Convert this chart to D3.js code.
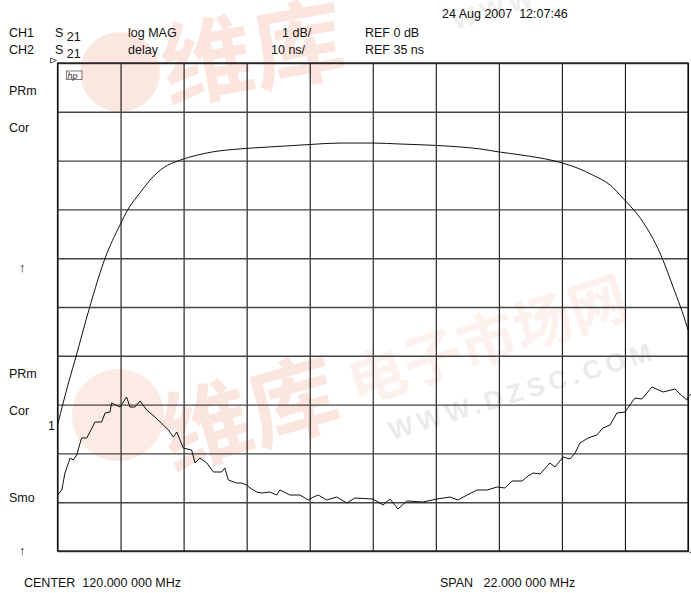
<!DOCTYPE html>
<html><head><meta charset="utf-8">
<script src="https://cdn.jsdelivr.net/npm/d3@7/dist/d3.min.js"></script>
<style>
body{margin:0;background:#fff;}
svg{display:block;font-family:"Liberation Sans",Arial,sans-serif;}
</style></head>
<body><svg id="c" width="691" height="593"></svg>
<script>
// ---- data ----
const center = 120, span = 22;               // MHz
const ch1Ref = 0, ch1Scale = 1;              // dB, dB/div
const ch2Ref = 35, ch2Scale = 10;            // ns, ns/div
const ch1Freq = [109.0,109.41,109.61,110.13,110.66,111.18,111.47,111.88,112.29,112.69,113.28,113.86,114.43,115.37,116.41,117.81,118.86,120.0,120.95,122.24,123.04,123.74,124.37,125.24,126.29,127.13,127.69,128.28,128.73,129.43,130.02,130.48,130.97,131.0];
const ch1Mag  = [-7.42,-6.50,-6.09,-4.99,-4.00,-3.32,-2.99,-2.66,-2.36,-2.15,-1.99,-1.89,-1.82,-1.76,-1.72,-1.67,-1.64,-1.64,-1.66,-1.69,-1.72,-1.76,-1.82,-1.89,-2.00,-2.15,-2.30,-2.50,-2.77,-3.26,-3.89,-4.59,-5.41,-5.47];
const ch2Freq = [109.0,109.15,109.26,109.44,109.55,109.67,109.84,110.02,110.13,110.31,110.54,110.66,110.83,110.89,111.18,111.41,111.53,111.70,111.88,112.11,112.40,112.69,112.87,113.04,113.16,113.39,113.68,113.80,113.97,114.21,114.44,114.73,114.84,114.96,115.25,115.43,115.60,115.72,115.95,116.13,116.41,116.65,116.76,117.11,117.46,117.75,117.93,118.10,118.39,118.74,119.09,119.38,120.01,120.36,120.60,120.88,121.19,121.75,122.24,122.70,122.97,123.29,123.64,123.99,124.34,124.61,124.86,125.21,125.42,125.59,125.84,126.18,126.36,126.64,126.88,127.06,127.23,127.51,127.82,128.03,128.28,128.52,128.80,128.97,129.15,129.39,129.74,130.13,130.55,130.72,130.96,131.0];
const ch2Delay = [46.47,47.50,50.98,54.06,53.65,54.67,58.15,58.15,59.38,61.43,61.43,63.28,63.48,65.33,64.50,66.55,64.50,64.50,65.74,63.89,62.46,60.82,59.79,58.36,59.38,56.10,55.69,53.03,54.06,53.03,51.19,51.19,52.01,49.55,48.93,48.93,48.52,47.91,47.09,46.88,47.09,46.47,47.50,46.47,46.47,45.45,46.06,46.47,45.45,46.06,44.84,45.86,45.65,44.43,45.65,43.61,45.25,45.04,45.65,46.06,45.45,46.47,47.50,47.50,48.11,47.91,49.34,49.34,50.37,50.98,50.78,53.03,52.21,54.26,53.85,55.08,57.13,58.15,58.77,60.20,60.82,63.28,63.48,64.92,66.35,66.14,68.60,67.58,68.19,67.17,65.94,66.55];
const headerRows = [
  {ch:"CH1", param:"S", sub:"21", fmt:"log MAG", scale:"1 dB/", ref:"REF 0 dB"},
  {ch:"CH2", param:"S", sub:"21", fmt:"delay", scale:"10 ns/", ref:"REF 35 ns"}
];
const dateText = "24 Aug 2007  12:07:46";
const leftLabels = [
  {t:"PRm", y:95},{t:"Cor", y:132},{t:"↑", y:272},
  {t:"PRm", y:378},{t:"Cor", y:415},{t:"Smo", y:502},{t:"↑", y:555}
];
const footerCenter = "CENTER  120.000 000 MHz";
const footerSpan = "SPAN   22.000 000 MHz";
const nDiv = 10;

// ---- layout ----
const L = 57.5, R = 688, T = 63, B = 551;
const svg = d3.select("#c");

// watermark (faint)
const wm = svg.append("g").attr("fill","#ec6a40").attr("font-family","'Noto Sans CJK SC'").attr("font-weight","bold");
wm.append("circle").attr("cx",120).attr("cy",72).attr("r",40).attr("opacity",0.16);
wm.append("text").attr("x",168).attr("y",102).attr("font-size",92).attr("opacity",0.17).attr("transform","rotate(-10,168,102)").text("维库");
wm.append("circle").attr("cx",118).attr("cy",415).attr("r",46).attr("opacity",0.14);
wm.append("text").attr("x",172).attr("y",470).attr("font-size",90).attr("opacity",0.16).attr("transform","rotate(-16,172,470)").text("维库");
wm.append("text").attr("x",356).attr("y",405).attr("font-size",58).attr("opacity",0.09).attr("transform","rotate(-18,356,405)").text("电子市场网");
wm.append("text").attr("x",392).attr("y",440).attr("font-size",26).attr("fill","#999").attr("font-family","'Liberation Sans'").attr("letter-spacing",5).attr("opacity",0.2).attr("transform","rotate(-17,392,440)").text("WWW.DZSC.COM");
wm.append("text").attr("x",455).attr("y",30).attr("font-size",26).attr("fill","#999").attr("font-family","'Liberation Sans'").attr("letter-spacing",5).attr("opacity",0.15).attr("transform","rotate(-17,455,30)").text("WWW");

// scales
const x = d3.scaleLinear().domain([center - span/2, center + span/2]).range([L, R]);
const y1 = d3.scaleLinear().domain([ch1Ref - nDiv*ch1Scale, ch1Ref]).range([B, T]);
const y2 = d3.scaleLinear().domain([ch2Ref, ch2Ref + nDiv*ch2Scale]).range([B, T]);

// grid via axes
const xt = d3.range(nDiv+1).map(i => center - span/2 + i*span/nDiv);
const yt = d3.range(nDiv+1).map(i => ch1Ref - i*ch1Scale);
const gx = svg.append("g").attr("transform",`translate(0,${B})`)
  .call(d3.axisBottom(x).tickValues(xt).tickSize(-(B-T)).tickFormat(""));
const gy = svg.append("g").attr("transform",`translate(${L},0)`)
  .call(d3.axisLeft(y1).tickValues(yt).tickSize(-(R-L)).tickFormat(""));
gx.select(".domain").remove(); gy.select(".domain").remove();
gx.selectAll("line").attr("stroke","#111").attr("stroke-width",1.1);
gy.selectAll("line").attr("stroke","#444").attr("stroke-width",1.4);
svg.append("rect").attr("x",L).attr("y",T).attr("width",R-L).attr("height",B-T)
  .attr("fill","none").attr("stroke","#111").attr("stroke-width",1.2);

// traces
svg.append("clipPath").attr("id","cp").append("rect").attr("x",L).attr("y",T-2).attr("width",R-L+3).attr("height",B-T+4);
const line1 = d3.line().x((d,i)=>x(ch1Freq[i])).y(d=>y1(d)).curve(d3.curveMonotoneX);
const line2 = d3.line().x((d,i)=>x(ch2Freq[i])).y(d=>y2(d));
svg.append("path").attr("clip-path","url(#cp)").attr("d",line1(ch1Mag)).attr("fill","none").attr("stroke","#111").attr("stroke-width",1);
svg.append("path").attr("clip-path","url(#cp)").attr("d",line2(ch2Delay)).attr("fill","none").attr("stroke","#111").attr("stroke-width",1);

// text
const fs = 12.5, txt = "#111";
const hdr = svg.append("g").attr("font-size",fs).attr("fill",txt);
hdr.append("text").attr("x",442).attr("y",18).attr("xml:space","preserve").text(dateText);
const scaleX = [282, 271];
headerRows.forEach((r,i)=>{
  const yy = 37 + i*16.5;
  hdr.append("text").attr("x",9).attr("y",yy).text(r.ch);
  const s = hdr.append("text").attr("x",55).attr("y",yy).attr("xml:space","preserve").text(r.param+" ");
  s.append("tspan").attr("dy",4).text(r.sub);
  hdr.append("text").attr("x",128).attr("y",yy).text(r.fmt);
  hdr.append("text").attr("x",scaleX[i]).attr("y",yy).text(r.scale);
  hdr.append("text").attr("x",365).attr("y",yy).text(r.ref);
});
// reference triangle
svg.append("path").attr("d",`M${L-7},${T-5} L${L-1},${T-2.5} L${L-7},${T} Z`).attr("fill","none").attr("stroke","#333").attr("stroke-width",0.8);
// hp logo
const hp = svg.append("g");
hp.append("rect").attr("x",66.5).attr("y",71).attr("width",15.5).attr("height",8.5).attr("fill","none").attr("stroke","#444").attr("stroke-width",0.7);
hp.append("text").attr("x",67.5).attr("y",78.5).attr("font-size",9).attr("font-style","italic").attr("fill","#333").text("hp");

leftLabels.forEach(l=>{
  svg.append("text").attr("x", l.t==="↑" ? 19 : 9).attr("y",l.y).attr("font-size",fs).attr("fill",txt).text(l.t);
});
svg.append("text").attr("x",48).attr("y",430).attr("font-size",fs).attr("fill",txt).text("1");
// right-edge markers
svg.append("path").attr("d",`M${R},${y2(ch2Delay[ch2Delay.length-1])} l3,-3`).attr("stroke","#333");
svg.append("path").attr("d",`M${R},${B} l3,2`).attr("stroke","#333");

svg.append("text").attr("x",24).attr("y",587).attr("font-size",fs).attr("fill",txt).attr("xml:space","preserve").text(footerCenter);
svg.append("text").attr("x",440).attr("y",587).attr("font-size",fs).attr("fill",txt).attr("xml:space","preserve").text(footerSpan);
</script></body></html>
